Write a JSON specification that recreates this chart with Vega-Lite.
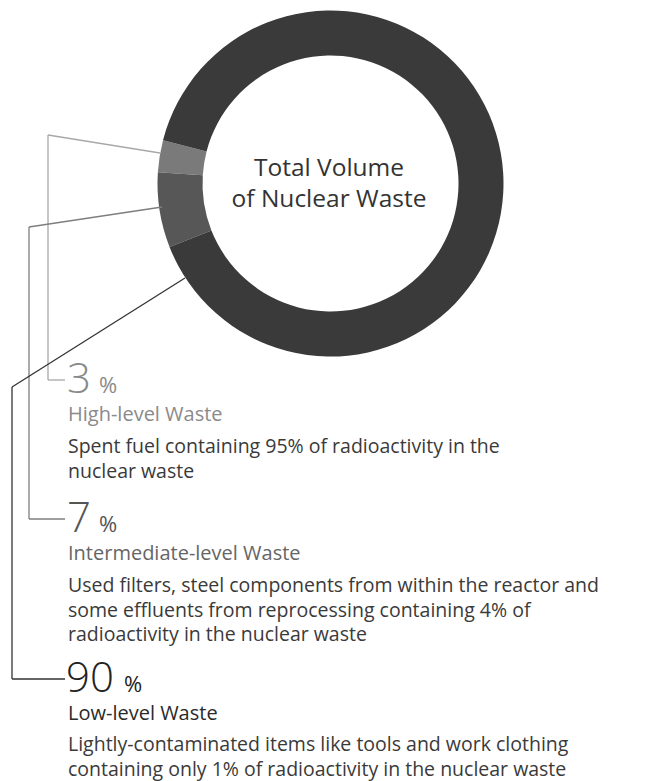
{
  "$schema": "https://vega.github.io/schema/vega-lite/v6.json",
  "width": 659,
  "height": 781,
  "padding": 0,
  "autosize": {"type": "none"},
  "background": "white",
  "config": {
    "view": {"stroke": null},
    "axis": {"disable": true},
    "legend": {"disable": true},
    "text": {"font": "Open Sans", "align": "left", "baseline": "alphabetic"}
  },
  "data": {
    "values": [
      {"category": "High-level Waste", "percent": 3, "description": "Spent fuel containing 95% of radioactivity in the\nnuclear waste"},
      {"category": "Intermediate-level Waste", "percent": 7, "description": "Used filters, steel components from within the reactor and\nsome effluents from reprocessing containing 4% of\nradioactivity in the nuclear waste"},
      {"category": "Low-level Waste", "percent": 90, "description": "Lightly-contaminated items like tools and work clothing\ncontaining only 1% of radioactivity in the nuclear waste"}
    ]
  },
  "layer": [
    {
      "mark": {"type": "arc", "innerRadius": 128, "outerRadius": 173},
      "encoding": {
        "theta": {"field": "percent", "type": "quantitative", "stack": true, "scale": {"range": [4.96546, 11.24864]}},
        "color": {"field": "category", "type": "nominal", "scale": {"domain": ["High-level Waste", "Intermediate-level Waste", "Low-level Waste"], "range": ["#7a7a7a", "#575757", "#3a3a3a"]}, "legend": null},
        "order": {"field": "category", "sort": "descending"},
        "x": {"datum": 330.5, "type": "quantitative", "scale": {"domain": [0, 659], "nice": false, "zero": false}},
        "y": {"datum": 183.5, "type": "quantitative", "scale": {"domain": [0, 781], "nice": false, "zero": false, "reverse": true}}
      }
    },
    {
      "data": {"values": [{}]},
      "mark": {"type": "text", "text": ["Total Volume", "of Nuclear Waste"], "fontSize": 24.5, "color": "#333333", "align": "center", "lineHeight": 31},
      "encoding": {
        "x": {"datum": 329, "type": "quantitative", "scale": {"domain": [0, 659], "nice": false, "zero": false}},
        "y": {"datum": 176, "type": "quantitative", "scale": {"domain": [0, 781], "nice": false, "zero": false, "reverse": true}}
      }
    },
    {
      "data": {"values": [{}]},
      "mark": {"type": "rule", "color": "#a8a8a8", "strokeWidth": 1.3},
      "encoding": {
        "x": {"datum": 160, "type": "quantitative", "scale": {"domain": [0, 659], "nice": false, "zero": false}},
        "y": {"datum": 153, "type": "quantitative", "scale": {"domain": [0, 781], "nice": false, "zero": false, "reverse": true}},
        "x2": {"datum": 48},
        "y2": {"datum": 135}
      }
    },
    {
      "data": {"values": [{}]},
      "mark": {"type": "rule", "color": "#a8a8a8", "strokeWidth": 1.3},
      "encoding": {
        "x": {"datum": 48, "type": "quantitative", "scale": {"domain": [0, 659], "nice": false, "zero": false}},
        "y": {"datum": 135, "type": "quantitative", "scale": {"domain": [0, 781], "nice": false, "zero": false, "reverse": true}},
        "x2": {"datum": 48},
        "y2": {"datum": 380}
      }
    },
    {
      "data": {"values": [{}]},
      "mark": {"type": "rule", "color": "#a8a8a8", "strokeWidth": 1.3},
      "encoding": {
        "x": {"datum": 48, "type": "quantitative", "scale": {"domain": [0, 659], "nice": false, "zero": false}},
        "y": {"datum": 380, "type": "quantitative", "scale": {"domain": [0, 781], "nice": false, "zero": false, "reverse": true}},
        "x2": {"datum": 65},
        "y2": {"datum": 380}
      }
    },
    {
      "data": {"values": [{}]},
      "mark": {"type": "rule", "color": "#7e7e7e", "strokeWidth": 1.3},
      "encoding": {
        "x": {"datum": 162, "type": "quantitative", "scale": {"domain": [0, 659], "nice": false, "zero": false}},
        "y": {"datum": 207, "type": "quantitative", "scale": {"domain": [0, 781], "nice": false, "zero": false, "reverse": true}},
        "x2": {"datum": 29},
        "y2": {"datum": 227}
      }
    },
    {
      "data": {"values": [{}]},
      "mark": {"type": "rule", "color": "#7e7e7e", "strokeWidth": 1.3},
      "encoding": {
        "x": {"datum": 29, "type": "quantitative", "scale": {"domain": [0, 659], "nice": false, "zero": false}},
        "y": {"datum": 227, "type": "quantitative", "scale": {"domain": [0, 781], "nice": false, "zero": false, "reverse": true}},
        "x2": {"datum": 29},
        "y2": {"datum": 519}
      }
    },
    {
      "data": {"values": [{}]},
      "mark": {"type": "rule", "color": "#7e7e7e", "strokeWidth": 1.3},
      "encoding": {
        "x": {"datum": 29, "type": "quantitative", "scale": {"domain": [0, 659], "nice": false, "zero": false}},
        "y": {"datum": 519, "type": "quantitative", "scale": {"domain": [0, 781], "nice": false, "zero": false, "reverse": true}},
        "x2": {"datum": 65},
        "y2": {"datum": 519}
      }
    },
    {
      "data": {"values": [{}]},
      "mark": {"type": "rule", "color": "#333333", "strokeWidth": 1.3},
      "encoding": {
        "x": {"datum": 185, "type": "quantitative", "scale": {"domain": [0, 659], "nice": false, "zero": false}},
        "y": {"datum": 278, "type": "quantitative", "scale": {"domain": [0, 781], "nice": false, "zero": false, "reverse": true}},
        "x2": {"datum": 12},
        "y2": {"datum": 387}
      }
    },
    {
      "data": {"values": [{}]},
      "mark": {"type": "rule", "color": "#333333", "strokeWidth": 1.3},
      "encoding": {
        "x": {"datum": 12, "type": "quantitative", "scale": {"domain": [0, 659], "nice": false, "zero": false}},
        "y": {"datum": 387, "type": "quantitative", "scale": {"domain": [0, 781], "nice": false, "zero": false, "reverse": true}},
        "x2": {"datum": 12},
        "y2": {"datum": 679}
      }
    },
    {
      "data": {"values": [{}]},
      "mark": {"type": "rule", "color": "#333333", "strokeWidth": 1.3},
      "encoding": {
        "x": {"datum": 12, "type": "quantitative", "scale": {"domain": [0, 659], "nice": false, "zero": false}},
        "y": {"datum": 679, "type": "quantitative", "scale": {"domain": [0, 781], "nice": false, "zero": false, "reverse": true}},
        "x2": {"datum": 65},
        "y2": {"datum": 679}
      }
    },
    {
      "transform": [{"filter": "datum.category === 'High-level Waste'"}],
      "mark": {"type": "text", "fontSize": 42, "fontWeight": 300, "color": "#8a8a8a"},
      "encoding": {
        "text": {"field": "percent", "type": "quantitative"},
        "x": {"datum": 67, "type": "quantitative", "scale": {"domain": [0, 659], "nice": false, "zero": false}},
        "y": {"datum": 393, "type": "quantitative", "scale": {"domain": [0, 781], "nice": false, "zero": false, "reverse": true}}
      }
    },
    {
      "transform": [{"filter": "datum.category === 'High-level Waste'"}],
      "mark": {"type": "text", "fontSize": 22, "color": "#8a8a8a", "text": "%"},
      "encoding": {
        "x": {"datum": 99, "type": "quantitative", "scale": {"domain": [0, 659], "nice": false, "zero": false}},
        "y": {"datum": 393, "type": "quantitative", "scale": {"domain": [0, 781], "nice": false, "zero": false, "reverse": true}}
      }
    },
    {
      "transform": [{"filter": "datum.category === 'High-level Waste'"}],
      "mark": {"type": "text", "fontSize": 20, "color": "#8a8a8a"},
      "encoding": {
        "text": {"field": "category", "type": "nominal"},
        "x": {"datum": 68, "type": "quantitative", "scale": {"domain": [0, 659], "nice": false, "zero": false}},
        "y": {"datum": 421, "type": "quantitative", "scale": {"domain": [0, 781], "nice": false, "zero": false, "reverse": true}}
      }
    },
    {
      "transform": [{"filter": "datum.category === 'High-level Waste'"}],
      "mark": {"type": "text", "fontSize": 19.5, "color": "#3a3a3a", "lineBreak": "\n", "lineHeight": 24.5},
      "encoding": {
        "text": {"field": "description", "type": "nominal"},
        "x": {"datum": 68, "type": "quantitative", "scale": {"domain": [0, 659], "nice": false, "zero": false}},
        "y": {"datum": 453, "type": "quantitative", "scale": {"domain": [0, 781], "nice": false, "zero": false, "reverse": true}}
      }
    },
    {
      "transform": [{"filter": "datum.category === 'Intermediate-level Waste'"}],
      "mark": {"type": "text", "fontSize": 42, "fontWeight": 300, "color": "#555555"},
      "encoding": {
        "text": {"field": "percent", "type": "quantitative"},
        "x": {"datum": 67, "type": "quantitative", "scale": {"domain": [0, 659], "nice": false, "zero": false}},
        "y": {"datum": 532, "type": "quantitative", "scale": {"domain": [0, 781], "nice": false, "zero": false, "reverse": true}}
      }
    },
    {
      "transform": [{"filter": "datum.category === 'Intermediate-level Waste'"}],
      "mark": {"type": "text", "fontSize": 22, "color": "#555555", "text": "%"},
      "encoding": {
        "x": {"datum": 99, "type": "quantitative", "scale": {"domain": [0, 659], "nice": false, "zero": false}},
        "y": {"datum": 532, "type": "quantitative", "scale": {"domain": [0, 781], "nice": false, "zero": false, "reverse": true}}
      }
    },
    {
      "transform": [{"filter": "datum.category === 'Intermediate-level Waste'"}],
      "mark": {"type": "text", "fontSize": 20, "color": "#666666"},
      "encoding": {
        "text": {"field": "category", "type": "nominal"},
        "x": {"datum": 68, "type": "quantitative", "scale": {"domain": [0, 659], "nice": false, "zero": false}},
        "y": {"datum": 560, "type": "quantitative", "scale": {"domain": [0, 781], "nice": false, "zero": false, "reverse": true}}
      }
    },
    {
      "transform": [{"filter": "datum.category === 'Intermediate-level Waste'"}],
      "mark": {"type": "text", "fontSize": 19.5, "color": "#3a3a3a", "lineBreak": "\n", "lineHeight": 24.5},
      "encoding": {
        "text": {"field": "description", "type": "nominal"},
        "x": {"datum": 68, "type": "quantitative", "scale": {"domain": [0, 659], "nice": false, "zero": false}},
        "y": {"datum": 592, "type": "quantitative", "scale": {"domain": [0, 781], "nice": false, "zero": false, "reverse": true}}
      }
    },
    {
      "transform": [{"filter": "datum.category === 'Low-level Waste'"}],
      "mark": {"type": "text", "fontSize": 42, "fontWeight": 300, "color": "#222222"},
      "encoding": {
        "text": {"field": "percent", "type": "quantitative"},
        "x": {"datum": 66, "type": "quantitative", "scale": {"domain": [0, 659], "nice": false, "zero": false}},
        "y": {"datum": 692, "type": "quantitative", "scale": {"domain": [0, 781], "nice": false, "zero": false, "reverse": true}}
      }
    },
    {
      "transform": [{"filter": "datum.category === 'Low-level Waste'"}],
      "mark": {"type": "text", "fontSize": 22, "color": "#222222", "text": "%"},
      "encoding": {
        "x": {"datum": 124, "type": "quantitative", "scale": {"domain": [0, 659], "nice": false, "zero": false}},
        "y": {"datum": 692, "type": "quantitative", "scale": {"domain": [0, 781], "nice": false, "zero": false, "reverse": true}}
      }
    },
    {
      "transform": [{"filter": "datum.category === 'Low-level Waste'"}],
      "mark": {"type": "text", "fontSize": 20, "color": "#2a2a2a"},
      "encoding": {
        "text": {"field": "category", "type": "nominal"},
        "x": {"datum": 68, "type": "quantitative", "scale": {"domain": [0, 659], "nice": false, "zero": false}},
        "y": {"datum": 720, "type": "quantitative", "scale": {"domain": [0, 781], "nice": false, "zero": false, "reverse": true}}
      }
    },
    {
      "transform": [{"filter": "datum.category === 'Low-level Waste'"}],
      "mark": {"type": "text", "fontSize": 19.5, "color": "#3a3a3a", "lineBreak": "\n", "lineHeight": 24.5},
      "encoding": {
        "text": {"field": "description", "type": "nominal"},
        "x": {"datum": 68, "type": "quantitative", "scale": {"domain": [0, 659], "nice": false, "zero": false}},
        "y": {"datum": 751, "type": "quantitative", "scale": {"domain": [0, 781], "nice": false, "zero": false, "reverse": true}}
      }
    }
  ]
}
